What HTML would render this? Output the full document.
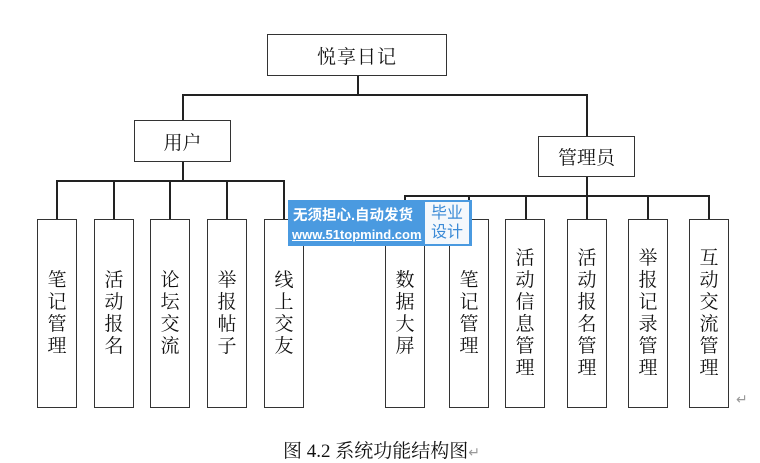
<!DOCTYPE html>
<html><head><meta charset="utf-8"><style>
body{margin:0;width:760px;height:448px;background:#fff;overflow:hidden;position:relative;font-family:"Liberation Serif","Noto Serif CJK SC","Noto Sans CJK SC",serif;color:#111}
.b{position:absolute;box-sizing:border-box;border:1.5px solid #333;background:#fff;display:flex;align-items:center;justify-content:center;font-size:19px}
.v{width:40px;top:219px;height:189px;line-height:22px;text-align:center;word-break:break-all;padding:0 9px}
.l{position:absolute;background:#222}
.h{height:1.5px}.w{width:1.5px}
</style></head><body>
<div class="l w" style="left:357px;top:75px;height:20px"></div>
<div class="l h" style="left:182px;top:94px;width:405px"></div>
<div class="l w" style="left:182px;top:94px;height:27px"></div>
<div class="l w" style="left:586px;top:94px;height:43px"></div>
<div class="l w" style="left:182px;top:161px;height:20px;width:2px"></div>
<div class="l h" style="left:57px;top:180px;width:228px"></div>
<div class="l w" style="left:56px;top:180px;height:40px"></div>
<div class="l w" style="left:113px;top:180px;height:40px"></div>
<div class="l w" style="left:169px;top:180px;height:40px"></div>
<div class="l w" style="left:226px;top:180px;height:40px"></div>
<div class="l w" style="left:283px;top:180px;height:40px"></div>
<div class="l w" style="left:586px;top:176px;height:20px;width:2px"></div>
<div class="l h" style="left:404px;top:195px;width:305px"></div>
<div class="l w" style="left:404px;top:195px;height:24px"></div>
<div class="l w" style="left:468px;top:195px;height:24px"></div>
<div class="l w" style="left:525px;top:195px;height:24px"></div>
<div class="l w" style="left:586px;top:195px;height:24px"></div>
<div class="l w" style="left:647px;top:195px;height:24px"></div>
<div class="l w" style="left:708px;top:195px;height:24px"></div>

<div class="b" style="left:267px;top:34px;width:180px;height:42px;letter-spacing:1px">悦享日记</div>
<div class="b" style="left:134px;top:120px;width:97px;height:42px">用户</div>
<div class="b" style="left:538px;top:136px;width:97px;height:41px">管理员</div>

<div class="b v" style="left:37px">笔记管理</div>
<div class="b v" style="left:94px">活动报名</div>
<div class="b v" style="left:150px">论坛交流</div>
<div class="b v" style="left:207px">举报帖子</div>
<div class="b v" style="left:264px">线上交友</div>
<div class="b v" style="left:385px">数据大屏</div>
<div class="b v" style="left:449px">笔记管理</div>
<div class="b v" style="left:505px">活动信息管理</div>
<div class="b v" style="left:567px">活动报名管理</div>
<div class="b v" style="left:628px">举报记录管理</div>
<div class="b v" style="left:689px">互动交流管理</div>

<div style="position:absolute;left:288px;top:200px;width:184px;height:46px;background:#4a9ae0;font-family:'Liberation Sans','Noto Sans CJK SC',sans-serif;color:#fff">
<div style="position:absolute;left:5px;top:4px;font-size:14.5px;font-weight:bold">无须担心.自动发货</div>
<div style="position:absolute;left:4px;top:27px;font-size:13px;font-weight:bold;text-decoration:underline">www.51topmind.com</div>
<div style="position:absolute;left:137px;top:2px;width:44px;height:42px;background:#f4f8fc;color:#3a8ad6;font-size:16px;line-height:19px;text-align:center;padding-top:2px;box-sizing:border-box">毕业<br>设计</div>
</div>

<div style="position:absolute;left:736px;top:392px;font-size:14px;color:#999">↵</div>
<div style="position:absolute;left:283px;top:436px;font-size:19px;white-space:nowrap">图 4.2 系统功能结构图<span style="color:#999;font-size:14px">↵</span></div>
</body></html>
